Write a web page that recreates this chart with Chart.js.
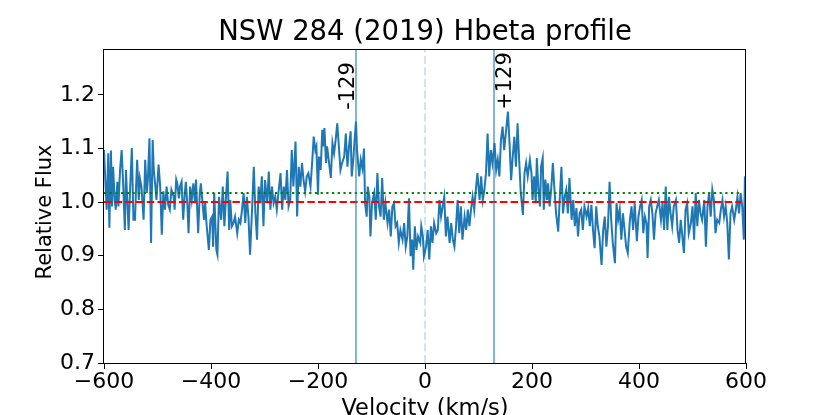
<!DOCTYPE html>
<html><head><meta charset="utf-8">
<script src="https://cdn.jsdelivr.net/npm/chart.js@4/dist/chart.umd.min.js"></script>
<style>html,body{margin:0;padding:0;background:#fff;overflow:hidden}#wrap{width:830px;height:415px;position:relative}</style>
</head><body><div id="wrap"><canvas id="c" width="830" height="415"></canvas></div>
<script>
const titleText = 'NSW 284 (2019) Hbeta profile';
const xLabel = 'Velocity (km/s)';
const yLabel = 'Relative Flux';
const xTicks = [-600, -400, -200, 0, 200, 400, 600];
const yTicks = [0.7, 0.8, 0.9, 1.0, 1.1, 1.2];
const xRange = [-600, 600];
const yRange = [0.7, 1.2855];
const continuumLevel = 1.0;
const thresholdLevel = 1.017;
const refLineRange = [-600, 592];
const markerVelocities = [-129, 129];
const markerLabels = ['-129', '+129'];
const markerLabelY = 1.172;
const restVelocity = 0;

const velocity = [
  -600,-597,-595,-592,-590,-587,-585,-583,-580,-578,-575,-573,-570,-567,-564,-561,-559,-556,-554,-551,
  -548,-545,-542,-540,-538,-535,-533,-530,-526,-523,-520,-518,-515,-512,-509,-507,-504,-502,-498,-495,
  -492,-489,-486,-483,-480,-477,-474,-470,-468,-465,-463,-460,-458,-455,-452,-449,-447,-444,-442,-439,
  -436,-433,-430,-428,-426,-424,-421,-419,-417,-415,-413,-411,
  -408,-404,-401,-398,-396,-394,-390,-388,-385,-381,-378,-375,-372,-369,-366,-364,-361,-358,-355,-351,
  -348,-345,-342,-339,-336,-333,-330,-327,-323,-320,-317,-314,-311,-308,-305,-302,-299,-295,-292,-289,
  -286,-283,-280,-277,-274,-270,-267,-264,-261,-258,-255,-252,-249,-246,-242,-239,-236,-233,-230,-227,
  -224,-221,-218,-214,-211,-208,-205,
  -203,-200,-198,-195,-192,-190,-188,-185,-183,-180,-176,-173,-170,-167,-164,-161,-158,-155,-151,-148,
  -145,-142,-139,-137,-134,-132,-129,-127,-123,-120,-117,-114,-112,-109,-107,-104,-102,-99,-95,-92,
  -89,-86,-83,-80,-77,-74,-70,-67,-64,-61,-58,-55,-52,-49,-46,-42,-39,-36,-33,-30,
  -27,-24,-22,-19,-16,-13,-9,-7,-4,-2,
  2,5,8,11,14,17,21,24,27,30,33,36,39,42,46,49,52,55,58,61,
  64,67,70,74,77,80,83,86,89,92,95,98,102,105,108,111,114,117,120,123,
  126,130,133,136,139,142,145,148,151,155,158,161,164,167,170,173,176,179,183,186,
  189,192,
  196,199,201,204,207,209,212,215,217,220,222,225,228,230,233,236,239,242,245,249,
  252,255,258,261,264,267,270,274,277,280,283,286,289,292,295,298,302,305,308,311,
  314,317,320,323,326,330,333,336,339,342,345,348,351,355,358,361,364,367,370,373,
  376,379,383,386,389,392,
  396,399,402,405,408,411,414,416,419,422,425,428,431,434,437,441,444,447,450,453,
  456,459,462,465,469,472,475,478,481,484,487,490,493,497,500,503,506,509,512,515,
  518,522,525,528,531,534,537,540,543,546,550,553,556,559,562,565,568,571,574,578,
  581,584,587,590,593,596,598,600
];

const flux = [
  1.097,1.029,0.986,1.091,0.952,1.096,0.992,1.066,1.004,0.986,1.038,0.992,1.060,1.097,1.029,0.948,1.060,0.992,0.948,1.029,
  1.101,0.967,0.967,1.029,1.079,1.004,1.045,1.029,0.967,1.079,1.017,1.042,1.119,0.924,1.116,1.060,1.029,1.004,1.070,1.029,
  0.939,1.020,0.986,1.029,0.995,0.986,1.023,1.011,0.986,1.042,1.035,1.007,1.029,1.038,0.967,1.017,1.038,0.992,0.942,1.029,
  1.004,1.035,0.998,1.042,0.992,0.942,1.017,1.035,1.011,0.989,0.967,0.998,
  0.955,0.911,0.967,0.973,0.917,1.017,0.911,0.902,1.010,0.967,1.029,0.955,1.010,1.057,0.948,1.004,0.955,0.961,0.973,0.942,
  0.967,0.961,0.986,1.017,0.961,1.010,0.973,0.902,0.992,1.066,0.980,0.930,1.029,0.998,1.048,0.955,1.041,0.998,1.057,0.986,
  1.029,0.998,1.010,0.986,1.017,1.054,0.986,1.029,1.004,1.060,0.992,1.004,1.097,1.029,1.113,0.973,1.066,1.029,1.073,1.041,
  1.020,1.048,1.054,1.029,1.073,1.122,1.097,
  1.104,1.014,1.085,1.060,1.135,1.104,1.138,1.073,1.104,1.079,1.045,1.110,1.091,1.116,1.147,1.104,1.060,1.073,1.085,1.128,
  1.066,1.104,1.132,1.048,1.079,1.110,1.150,1.097,1.048,1.079,1.063,1.100,0.998,0.973,1.029,1.010,0.936,0.998,1.017,0.967,
  1.054,0.992,0.973,1.045,0.967,0.998,0.961,0.986,0.936,0.992,0.998,0.955,0.961,0.924,0.948,0.930,0.961,0.917,0.936,1.007,
  0.899,0.930,0.874,0.955,0.911,0.936,0.924,0.955,0.936,0.899,
  0.917,0.948,0.893,0.955,0.924,0.961,0.942,0.948,1.004,0.973,0.992,1.010,0.936,0.973,0.924,0.961,0.930,0.917,0.955,1.004,
  0.942,0.992,0.930,0.973,0.948,0.986,0.955,0.986,1.010,0.986,1.023,1.054,1.004,1.048,1.004,1.023,1.054,1.128,1.048,1.097,
  1.073,1.110,1.060,1.079,1.048,1.116,1.141,1.097,1.128,1.169,1.110,1.041,1.085,1.122,1.066,1.147,1.079,1.017,0.976,1.054,
  1.073,1.048,
  1.079,1.054,1.004,1.048,0.998,1.082,1.023,0.992,1.066,1.082,0.986,1.042,1.004,1.035,0.992,1.026,1.073,1.023,0.979,0.945,
  1.010,1.066,0.979,1.010,1.023,0.979,1.045,0.967,1.004,0.955,0.989,0.936,0.979,0.986,0.948,0.992,0.973,0.989,0.955,0.995,
  0.948,0.914,0.992,0.955,0.936,0.883,0.948,0.973,0.917,0.955,1.038,0.967,0.924,0.886,0.998,0.967,0.986,0.930,0.979,0.948,
  0.917,0.905,0.967,0.992,0.948,0.998,
  0.927,0.973,0.992,1.004,0.942,0.973,0.961,0.896,0.992,1.004,0.979,0.930,0.979,0.992,1.004,0.967,0.998,0.948,1.029,0.948,
  1.010,0.979,0.955,0.992,1.004,0.948,0.924,0.967,0.936,0.905,0.986,0.998,0.942,0.961,0.992,0.930,1.017,0.955,1.004,0.979,
  0.967,1.004,0.917,0.992,1.017,0.973,1.023,1.004,0.942,0.967,0.961,0.986,1.004,0.973,0.992,0.961,0.893,0.979,0.992,0.967,
  0.986,1.010,0.979,1.017,0.992,0.930,1.048,1.029
];

const FONT = "'DejaVu Sans', sans-serif";
Chart.defaults.font.family = FONT;
Chart.defaults.color = '#000';

const n = Math.min(velocity.length, flux.length);
const spectrum = [];
for (let i = 0; i < n; i++) spectrum.push({x: velocity[i], y: flux[i]});

const hline = (lvl) => refLineRange.map(v => ({x: v, y: lvl}));
const vline = (v) => yRange.map(y => ({x: v, y: y}));

const fmtX = v => (v < 0 ? '\u2212' + Math.abs(v) : String(v));

const frame = {
  id: 'frame',
  afterDatasetsDraw(chart) {
    const {ctx, chartArea: a, scales} = chart;
    ctx.save();
    // marker labels
    ctx.font = '21px ' + FONT;
    ctx.fillStyle = '#000';
    ctx.textAlign = 'left';
    ctx.textBaseline = 'alphabetic';
    markerVelocities.forEach((v, i) => {
      const px = scales.x.getPixelForValue(v);
      const py = scales.y.getPixelForValue(markerLabelY);
      const m = ctx.measureText(markerLabels[i]);
      const bx = v < 0 ? px - 2 : px + 1 + m.actualBoundingBoxAscent;
      ctx.save();
      ctx.translate(bx, py);
      ctx.rotate(-Math.PI / 2);
      ctx.fillText(markerLabels[i], 0, 0);
      ctx.restore();
    });
    // y axis label
    ctx.save();
    ctx.font = '21px ' + FONT;
    ctx.textAlign = 'center';
    ctx.textBaseline = 'alphabetic';
    ctx.translate(51, (a.top + a.bottom) / 2 + 6);
    ctx.rotate(-Math.PI / 2);
    ctx.fillText(yLabel, 0, 0);
    ctx.restore();
    // axes box
    ctx.strokeStyle = '#000';
    ctx.lineWidth = 1;
    ctx.strokeRect(Math.round(a.left) - 0.5, Math.round(a.top) + 0.5, Math.round(a.right - a.left), Math.round(a.bottom - a.top));
    ctx.restore();
  }
};

new Chart(document.getElementById('c'), {
  type: 'scatter',
  data: {
    datasets: [
      {data: vline(markerVelocities[0]), showLine: true, borderColor: '#1f77b4', borderWidth: 1.1, pointRadius: 0},
      {data: vline(markerVelocities[1]), showLine: true, borderColor: '#1f77b4', borderWidth: 1.1, pointRadius: 0},
      {data: hline(continuumLevel), showLine: true, borderColor: '#ff0000', borderWidth: 2, borderDash: [7.5, 3.2], pointRadius: 0},
      {data: hline(thresholdLevel), showLine: true, borderColor: '#008000', borderWidth: 2.2, borderDash: [2.2, 3.5], pointRadius: 0},
      {data: spectrum, showLine: true, borderColor: '#1f77b4', borderWidth: 2, pointRadius: 0, tension: 0},
      {data: vline(restVelocity), showLine: true, borderColor: 'rgba(31,119,180,0.2)', borderWidth: 2, borderDash: [8, 3.5], pointRadius: 0}
    ]
  },
  options: {
    responsive: false,
    animation: false,
    devicePixelRatio: 1,
    layout: {padding: {left: 0, right: 84, top: 0, bottom: 0}},
    plugins: {
      legend: {display: false},
      tooltip: {enabled: false},
      title: {
        display: true, text: titleText, fullSize: false, color: '#000',
        font: {family: FONT, size: 27.5, weight: 'normal'},
        padding: {top: 16, bottom: 0}
      }
    },
    scales: {
      x: {
        type: 'linear', min: xRange[0], max: xRange[1],
        afterBuildTicks: s => { s.ticks = xTicks.map(v => ({value: v})); },
        afterFit: s => { s.height = 52; },
        ticks: {callback: v => fmtX(v), font: {family: FONT, size: 22}, color: '#000', maxRotation: 0, padding: 0, autoSkip: false},
        grid: {display: true, drawOnChartArea: false, drawTicks: true, tickLength: 6, tickColor: '#000', tickWidth: 1},
        border: {display: false},
        title: {display: true, text: xLabel, color: '#000', font: {family: FONT, size: 22.5}, padding: {top: 0, bottom: -8}}
      },
      y: {
        type: 'linear', min: yRange[0], max: yRange[1],
        afterBuildTicks: s => { s.ticks = yTicks.map(v => ({value: v})); },
        afterFit: s => { s.width = 104; },
        ticks: {callback: v => v.toFixed(1), font: {family: FONT, size: 22}, color: '#000', padding: 3, autoSkip: false},
        grid: {display: true, drawOnChartArea: false, drawTicks: true, tickLength: 6, tickColor: '#000', tickWidth: 1},
        border: {display: false},
        title: {display: false}
      }
    }
  },
  plugins: [frame]
});
</script>
</body></html>
